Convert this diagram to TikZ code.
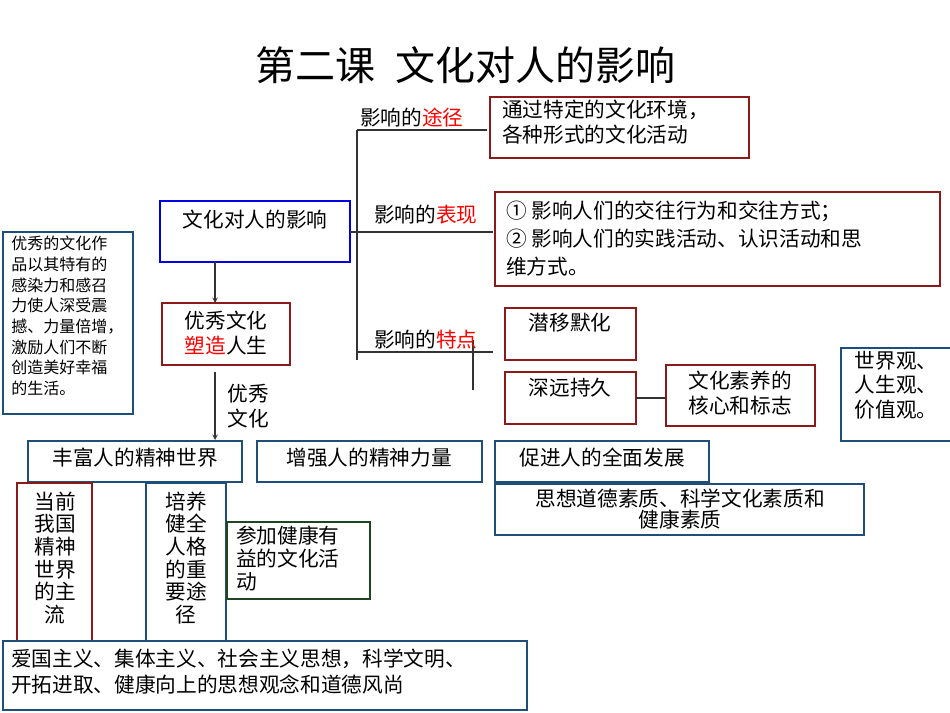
\documentclass[tikz,border=0pt]{standalone}
\usepackage{fontspec}
\setmainfont{Noto Sans CJK SC}
\begin{document}
\begin{tikzpicture}[x=0.75pt,y=-0.75pt,
 bx/.style={draw=#1,line width=1.6pt,inner sep=0pt},
 txt/.style={font=\fontsize{15.5}{18.5}\selectfont,align=left,inner sep=0pt},
 sm/.style={font=\fontsize{12}{15.5}\selectfont,align=left,inner sep=0pt},
 ln/.style={draw=black!80,line width=0.8pt}]
\definecolor{dred}{HTML}{8B1A1A}\definecolor{navy}{HTML}{1F4E79}\definecolor{dgreen}{HTML}{1E4620}
\useasboundingbox (0,0) rectangle (950,713);
\node[font=\fontsize{30}{32}\selectfont] (title) at (465,65) {第二课\hspace{0.5em}文化对人的影响};
\draw[bx=blue!90!black] (160,201) rectangle (350,262); \node[txt] (m) at (255,220) {文化对人的影响};
\coordinate (mr) at (350,232);
\draw[ln] (357,130) -- (357,360);
\draw[ln] (mr) -- (357,232);
\draw[ln] (357,130) -- (487,130); \draw[ln] (357,232) -- (493,232); \draw[ln] (357,352) -- (493,352);
\draw[ln] (473,340) -- (473,390);
\node[txt,anchor=west] (l1) at (360,118) {影响的\textcolor{red}{途径}};
\node[txt,anchor=west] (l2) at (374,215) {影响的\textcolor{red}{表现}};
\node[txt,anchor=west] (l3) at (374,340) {影响的\textcolor{red}{特点}};
\draw[bx=dred] (490,97) rectangle (749,158); \node[txt,anchor=north west] (a) at (502,100) {通过特定的文化环境，\\各种形式的文化活动};
\draw[bx=dred] (495,192) rectangle (940,286); \node[txt,anchor=north west,font=\fontsize{15.5}{21}\selectfont] (b) at (506,201) {① 影响人们的交往行为和交往方式；\\② 影响人们的实践活动、认识活动和思\\维方式。};
\draw[bx=dred] (505,308) rectangle (636,360); \node[txt] (c) at (570,323) {潜移默化};
\draw[bx=dred] (505,372) rectangle (636,424); \node[txt] (d) at (570,388) {深远持久};
\draw[bx=dred] (666,365) rectangle (815,426); \node[txt,align=center] (e) at (740,393) {文化素养的\\核心和标志};
\draw[ln] (636,398) -- (666,398);
\draw[bx=navy] (841,348) rectangle (952,441); \node[txt] (f) at (896,385) {世界观、\\人生观、\\价值观。};
\draw[bx=navy] (3,232) rectangle (133,414); \node[sm,anchor=north west] (g) at (11,236) {优秀的文化作\\品以其特有的\\感染力和感召\\力使人深受震\\撼、力量倍增，\\激励人们不断\\创造美好幸福\\的生活。};
\draw[bx=dred] (162,303) rectangle (290,365); \node[txt,align=center] (h) at (226,333) {优秀文化\\\textcolor{red}{塑造}人生};
\draw[ln,-stealth] (215,262) -- (215,303);
\draw[ln,-stealth] (215,372) -- (215,440);
\node[txt] (ha) at (248,406) {优秀\\文化};
\draw[bx=navy] (28,441) rectangle (242,482); \node[txt] (i) at (135,458) {丰富人的精神世界};
\draw[bx=navy] (257,441) rectangle (482,482); \node[txt] (j) at (369,458) {增强人的精神力量};
\draw[bx=navy] (495,441) rectangle (709,482); \node[txt] (k) at (602,458) {促进人的全面发展};
\draw[bx=navy] (495,484) rectangle (864,535); \node[txt,align=center,font=\fontsize{15.5}{16}\selectfont] (k2) at (680,509) {思想道德素质、科学文化素质和\\健康素质};
\draw[bx=dred] (17,483) rectangle (92,641); \node[txt,align=center,font=\fontsize{15.5}{17}\selectfont] (n) at (55,558) {当前\\我国\\精神\\世界\\的主\\流};
\draw[bx=navy] (146,483) rectangle (226,641); \node[txt,align=center,font=\fontsize{15.5}{17}\selectfont] (o) at (186,558) {培养\\健全\\人格\\的重\\要途\\径};
\draw[bx=dgreen] (227,522) rectangle (370,599); \node[txt,anchor=north west,font=\fontsize{15.5}{17}\selectfont] (p) at (236,526) {参加健康有\\益的文化活\\动};
\draw[bx=navy] (3,641) rectangle (527,710); \node[txt,anchor=north west,font=\fontsize{15.5}{19.5}\selectfont] (q) at (11,649) {爱国主义、集体主义、社会主义思想，科学文明、\\开拓进取、健康向上的思想观念和道德风尚};
\end{tikzpicture}
\end{document}
